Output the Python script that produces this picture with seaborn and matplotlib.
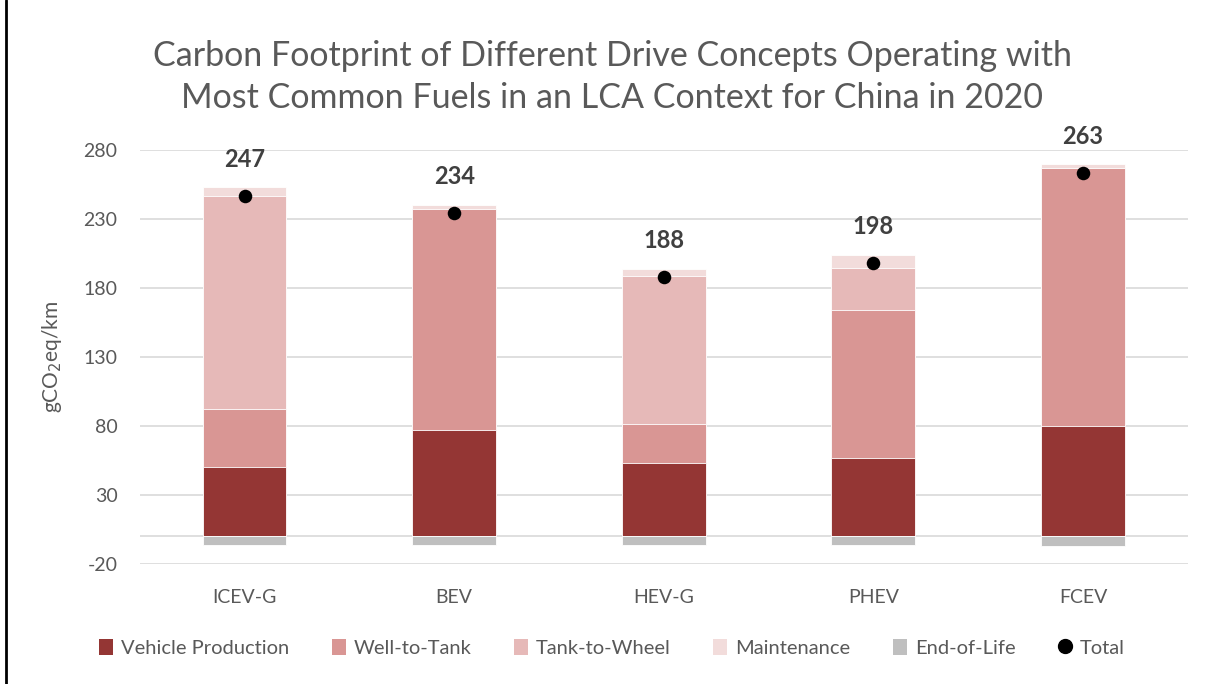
import matplotlib
matplotlib.use("Agg")
import matplotlib.pyplot as plt
import matplotlib.lines as mlines
import matplotlib.patches as mpatches
import numpy as np
import pandas as pd
import seaborn as sns

# Drive concepts and life-cycle emission components (gCO2eq/km)
concepts = ["ICEV-G", "BEV", "HEV-G", "PHEV", "FCEV"]
vehicle_production = [50, 77, 53, 57, 80]
well_to_tank = [42, 160, 28.5, 107, 187]
tank_to_wheel = [155, 0, 107, 30.5, 0]
maintenance = [6, 3, 5.5, 9.5, 3]
end_of_life = [-6, -6, -6, -6, -7]
totals = [247, 234, 188, 198, 263]

components = ["Vehicle Production", "Well-to-Tank", "Tank-to-Wheel", "Maintenance", "End-of-Life"]
colors = {
    "Vehicle Production": "#943634",
    "Well-to-Tank": "#D99694",
    "Tank-to-Wheel": "#E6B9B8",
    "Maintenance": "#F2DCDB",
    "End-of-Life": "#BFBFBF",
}
text_color = "#595959"

df = pd.DataFrame({
    "concept": concepts,
    "Vehicle Production": vehicle_production,
    "Well-to-Tank": well_to_tank,
    "Tank-to-Wheel": tank_to_wheel,
    "Maintenance": maintenance,
    "End-of-Life": end_of_life,
    "Total": totals,
})

sns.set_theme(style="white")
plt.rcParams["font.family"] = ["Lato", "DejaVu Sans"]
plt.rcParams["axes.unicode_minus"] = False

fig = plt.figure(figsize=(12.12, 6.84), dpi=100)
ax = fig.add_axes([0.1153, 0.1754, 0.8647, 0.6053])

# Stacked bars: draw cumulative heights from the top layer downwards
positive = ["Vehicle Production", "Well-to-Tank", "Tank-to-Wheel", "Maintenance"]
for i in range(len(positive), 0, -1):
    layer = positive[i - 1]
    cum = df[positive[:i]].sum(axis=1)
    sns.barplot(x=df["concept"], y=cum, color=colors[layer], width=0.4,
                saturation=1, edgecolor="white", linewidth=0.6, ax=ax, zorder=2)
sns.barplot(x=df["concept"], y=df["End-of-Life"], color=colors["End-of-Life"], width=0.4,
            saturation=1, edgecolor="white", linewidth=0.6, ax=ax, zorder=2)

# Net total markers and labels
sns.scatterplot(x=df["concept"], y=df["Total"], color="black", s=95,
                edgecolor="black", linewidth=0, ax=ax, zorder=4)
for i, t in enumerate(totals):
    ax.annotate(f"{t}", (i, t), xytext=(0, 18), textcoords="offset points",
                ha="center", va="bottom", fontsize=17, fontweight="bold",
                color="#404040")

ax.set_ylim(-20, 280)
ax.set_xlim(-0.5, 4.5)
ax.set_yticks(np.arange(-20, 281, 50))
ax.yaxis.grid(True, color="#D9D9D9", linewidth=1.2, zorder=0)
ax.set_axisbelow(True)
ax.axhline(0, color="#D9D9D9", linewidth=1.2, zorder=1)
for s in ax.spines.values():
    s.set_visible(False)
ax.tick_params(axis="both", length=0, labelsize=14, colors=text_color)
ax.tick_params(axis="x", pad=18)
ax.tick_params(axis="y", pad=16)
ax.set_xlabel("")
ax.set_ylabel("gCO$_2$eq/km", fontsize=15, color=text_color, labelpad=14)

fig.text(0.505, 0.887, "Carbon Footprint of Different Drive Concepts Operating with\n"
         "Most Common Fuels in an LCA Context for China in 2020",
         ha="center", va="center", fontsize=24.5, color=text_color, linespacing=1.38)

handles = [mpatches.Patch(facecolor=colors[c], edgecolor="none", label=c) for c in components]
handles.append(mlines.Line2D([], [], marker="o", color="black", linestyle="none",
                             markersize=10, label="Total"))
fig.legend(handles=handles, loc="center", bbox_to_anchor=(0.505, 0.053), ncol=6,
           frameon=False, fontsize=14.5, labelcolor=text_color, handlelength=0.7,
           handleheight=0.9, handletextpad=0.4, columnspacing=2.1)

# Left frame edge
fig.add_artist(mlines.Line2D([0.005, 0.005], [0, 1], color="black", linewidth=2,
                             transform=fig.transFigure))

fig.savefig("out.png", dpi=100)
